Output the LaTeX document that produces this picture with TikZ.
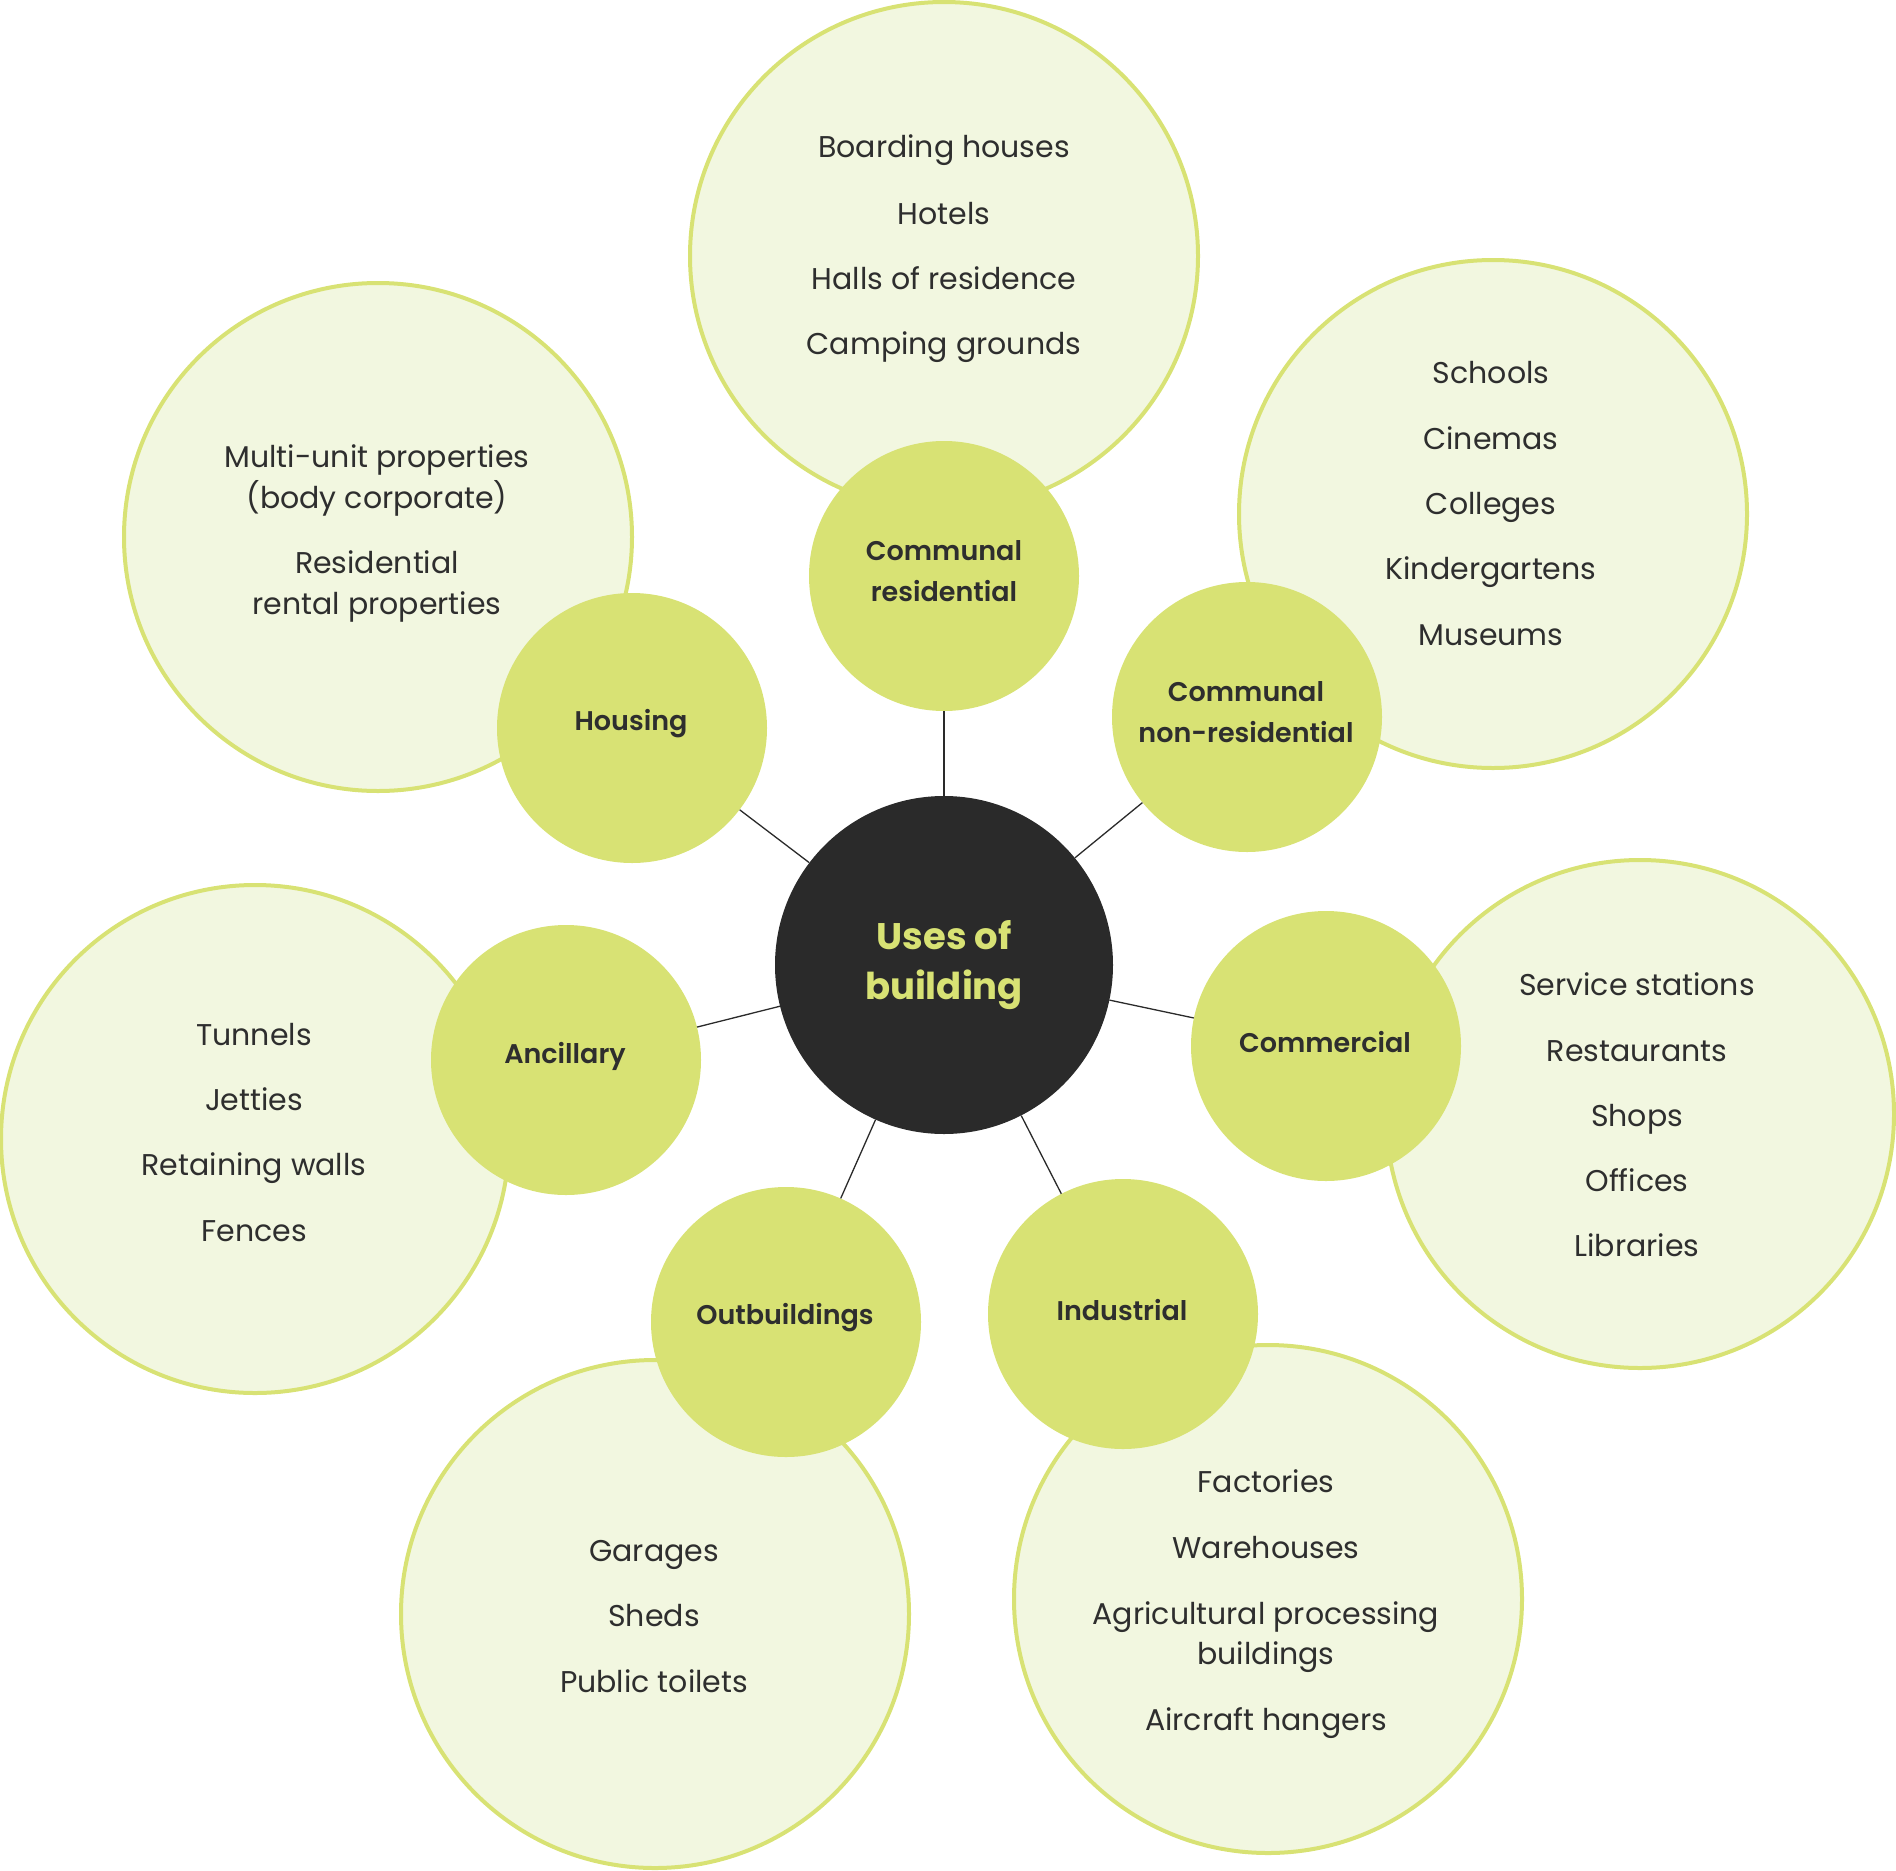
\documentclass[tikz,border=0pt]{standalone}
\usepackage{fontspec}
\setmainfont{Poppins}
\newfontfamily\medfont{Poppins}[UprightFont=* SemiBold]
\definecolor{lime}{HTML}{D8E274}
\definecolor{pale}{HTML}{F2F7E0}
\definecolor{hubdark}{HTML}{2A2A2A}
\definecolor{txt}{HTML}{2E2E2E}
\begin{document}
\begin{tikzpicture}[x=1pt,y=-1pt,
  bigc/.style={circle, draw=lime, line width=4pt, fill=pale, minimum size=508pt, inner sep=0pt},
  smallc/.style={circle, fill=lime, minimum size=270pt, inner sep=0pt},
  lab/.style={inner sep=0pt, text=txt, align=center, font=\fontsize{27}{41}\selectfont\medfont},
  hubc/.style={circle, fill=hubdark, minimum size=338pt, inner sep=0pt, text=lime, align=center,
    font=\fontsize{37}{50}\selectfont\bfseries},
  item/.style={anchor=base, inner sep=0pt, text=txt, font=\fontsize{30}{30}\selectfont},
  link/.style={draw=hubdark, line width=1.3pt}]
\useasboundingbox (0,0) rectangle (1896,1871);
% outer circles
\node[bigc] (bcr) at (944,256) {};
\node[bigc] (bho) at (378,537) {};
\node[bigc] (bcn) at (1493,514) {};
\node[bigc] (bco) at (1640,1114) {};
\node[bigc] (bin) at (1268,1599) {};
\node[bigc] (bou) at (655,1614) {};
\node[bigc] (ban) at (255,1139) {};
% items
\foreach \t/\y [count=\i] in {Boarding houses/157, Hotels/224, Halls of residence/289, Camping grounds/354}
  \node[item] (icr\i) at (944,\y) {\t};
\foreach \t/\y [count=\i] in {Multi-unit properties/467, (body corporate)/508, Residential/573, rental properties/614}
  \node[item] (iho\i) at (377,\y) {\t};
\foreach \t/\y [count=\i] in {Schools/383, Cinemas/449, Colleges/514, Kindergartens/579, Museums/645}
  \node[item] (icn\i) at (1491,\y) {\t};
\foreach \t/\y [count=\i] in {Service stations/995, Restaurants/1061, Shops/1126, Offices/1191, Libraries/1256}
  \node[item] (ico\i) at (1637,\y) {\t};
\foreach \t/\y [count=\i] in {Factories/1492, Warehouses/1558, Agricultural processing/1624, buildings/1664, Aircraft hangers/1730}
  \node[item] (iin\i) at (1266,\y) {\t};
\foreach \t/\y [count=\i] in {Garages/1561, Sheds/1626, Public toilets/1692}
  \node[item] (iou\i) at (654,\y) {\t};
\foreach \t/\y [count=\i] in {Tunnels/1045, Jetties/1110, Retaining walls/1175, Fences/1241}
  \node[item] (ian\i) at (254,\y) {\t};
% category circles
\node[smallc] (scr) at (944,576) {};
\node[smallc] (sho) at (632,728) {};
\node[smallc] (scn) at (1247,717) {};
\node[smallc] (sco) at (1326,1046) {};
\node[smallc] (sin) at (1123,1314) {};
\node[smallc] (sou) at (786,1322) {};
\node[smallc] (san) at (566,1060) {};
\node[lab] (lcr) at (944,571) {Communal\\residential};
\node[lab] (lho) at (631,724) {Housing};
\node[lab] (lcn) at (1246,712) {Communal\\non-residential};
\node[lab] (lco) at (1325,1042) {Commercial};
\node[lab] (lin) at (1122,1310) {Industrial};
\node[lab] (lou) at (785,1318) {Outbuildings};
\node[lab] (lan) at (565,1056) {Ancillary};
% hub
\node[hubc] (hub) at (944,965) {Uses of\\building};
% connectors
\foreach \s in {scr,sho,scn,sco,sin,sou,san}
  \draw[link] (hub) -- (\s);
\end{tikzpicture}
\end{document}
